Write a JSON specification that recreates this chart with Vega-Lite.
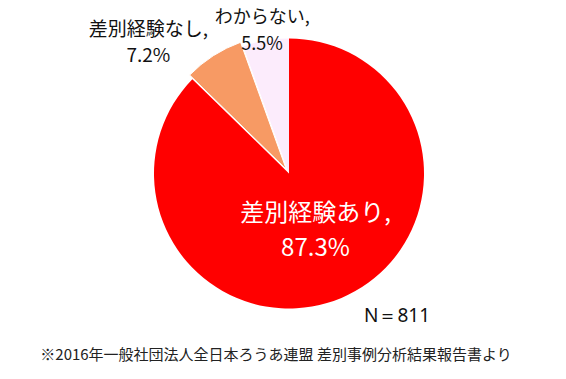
{
  "$schema": "https://vega.github.io/schema/vega-lite/v6.json",
  "autosize": "none",
  "width": 554,
  "height": 347,
  "padding": {"left": 12, "top": 0, "right": 0, "bottom": 32},
  "background": "white",
  "config": {"view": {"stroke": null}, "font": "Noto Sans CJK JP"},
  "datasets": {
    "pie": [
      {"cat": "差別経験あり", "label": "差別経験あり,\n87.3%", "value": 87.3, "o": 1},
      {"cat": "差別経験なし", "label": "差別経験なし,\n7.2%", "value": 7.2, "o": 2},
      {"cat": "わからない", "label": "わからない,\n5.5%", "value": 5.5, "o": 3}
    ],
    "n": [{"label": "N＝811"}],
    "note": [{"label": "※2016年一般社団法人全日本ろうあ連盟 差別事例分析結果報告書より"}]
  },
  "layer": [
    {
      "data": {"name": "pie"},
      "mark": {"type": "arc", "radius": 135},
      "encoding": {
        "theta": {"field": "value", "type": "quantitative", "stack": true},
        "order": {"field": "o", "type": "quantitative"},
        "color": {"field": "cat", "type": "nominal", "legend": null,
          "scale": {"domain": ["差別経験あり", "差別経験なし", "わからない"], "range": ["#ff0000", "#f79a64", "#fcecfc"]}},
        "opacity": {"condition": {"test": "datum.o == 2", "value": 0}, "value": 1}
      }
    },
    {
      "data": {"name": "pie"},
      "mark": {"type": "arc", "radius": 135, "xOffset": -2.7, "yOffset": -4.2, "stroke": "white", "strokeWidth": 1},
      "encoding": {
        "theta": {"field": "value", "type": "quantitative", "stack": true},
        "order": {"field": "o", "type": "quantitative"},
        "color": {"field": "cat", "type": "nominal", "legend": null},
        "opacity": {"condition": {"test": "datum.o == 2", "value": 1}, "value": 0}
      }
    },
    {
      "data": {"name": "pie"},
      "mark": {"type": "text", "radius": 63, "dx": 2, "dy": -17.5, "fontSize": 24, "lineHeight": 35, "lineBreak": "\n", "baseline": "middle", "align": "center", "color": "white"},
      "encoding": {
        "theta": {"field": "value", "type": "quantitative", "stack": true},
        "order": {"field": "o", "type": "quantitative"},
        "text": {"condition": {"test": "datum.o == 1", "field": "label"}, "value": ""}
      }
    },
    {
      "data": {"name": "pie"},
      "mark": {"type": "text", "radius": 160, "dx": -54, "dy": -9, "fontSize": 19, "lineHeight": 26, "lineBreak": "\n", "baseline": "middle", "align": "center", "color": "#111111"},
      "encoding": {
        "theta": {"field": "value", "type": "quantitative", "stack": true},
        "order": {"field": "o", "type": "quantitative"},
        "text": {"condition": {"test": "datum.o == 2", "field": "label"}, "value": ""}
      }
    },
    {
      "data": {"name": "pie"},
      "mark": {"type": "text", "radius": 147.5, "dx": -1.5, "dy": -10, "fontSize": 18, "lineHeight": 27, "lineBreak": "\n", "baseline": "middle", "align": "center", "color": "#111111"},
      "encoding": {
        "theta": {"field": "value", "type": "quantitative", "stack": true},
        "order": {"field": "o", "type": "quantitative"},
        "text": {"condition": {"test": "datum.o == 3", "field": "label"}, "value": ""}
      }
    },
    {
      "data": {"name": "n"},
      "mark": {"type": "text", "dx": 108, "dy": 142.5, "fontSize": 19, "baseline": "middle", "align": "center", "color": "#111111", "font": "Noto Sans"},
      "encoding": {"text": {"field": "label"}}
    },
    {
      "data": {"name": "note"},
      "mark": {"type": "text", "dx": -13, "dy": 181.5, "fontSize": 15, "baseline": "middle", "align": "center", "color": "#222222"},
      "encoding": {"text": {"field": "label"}}
    }
  ]
}
